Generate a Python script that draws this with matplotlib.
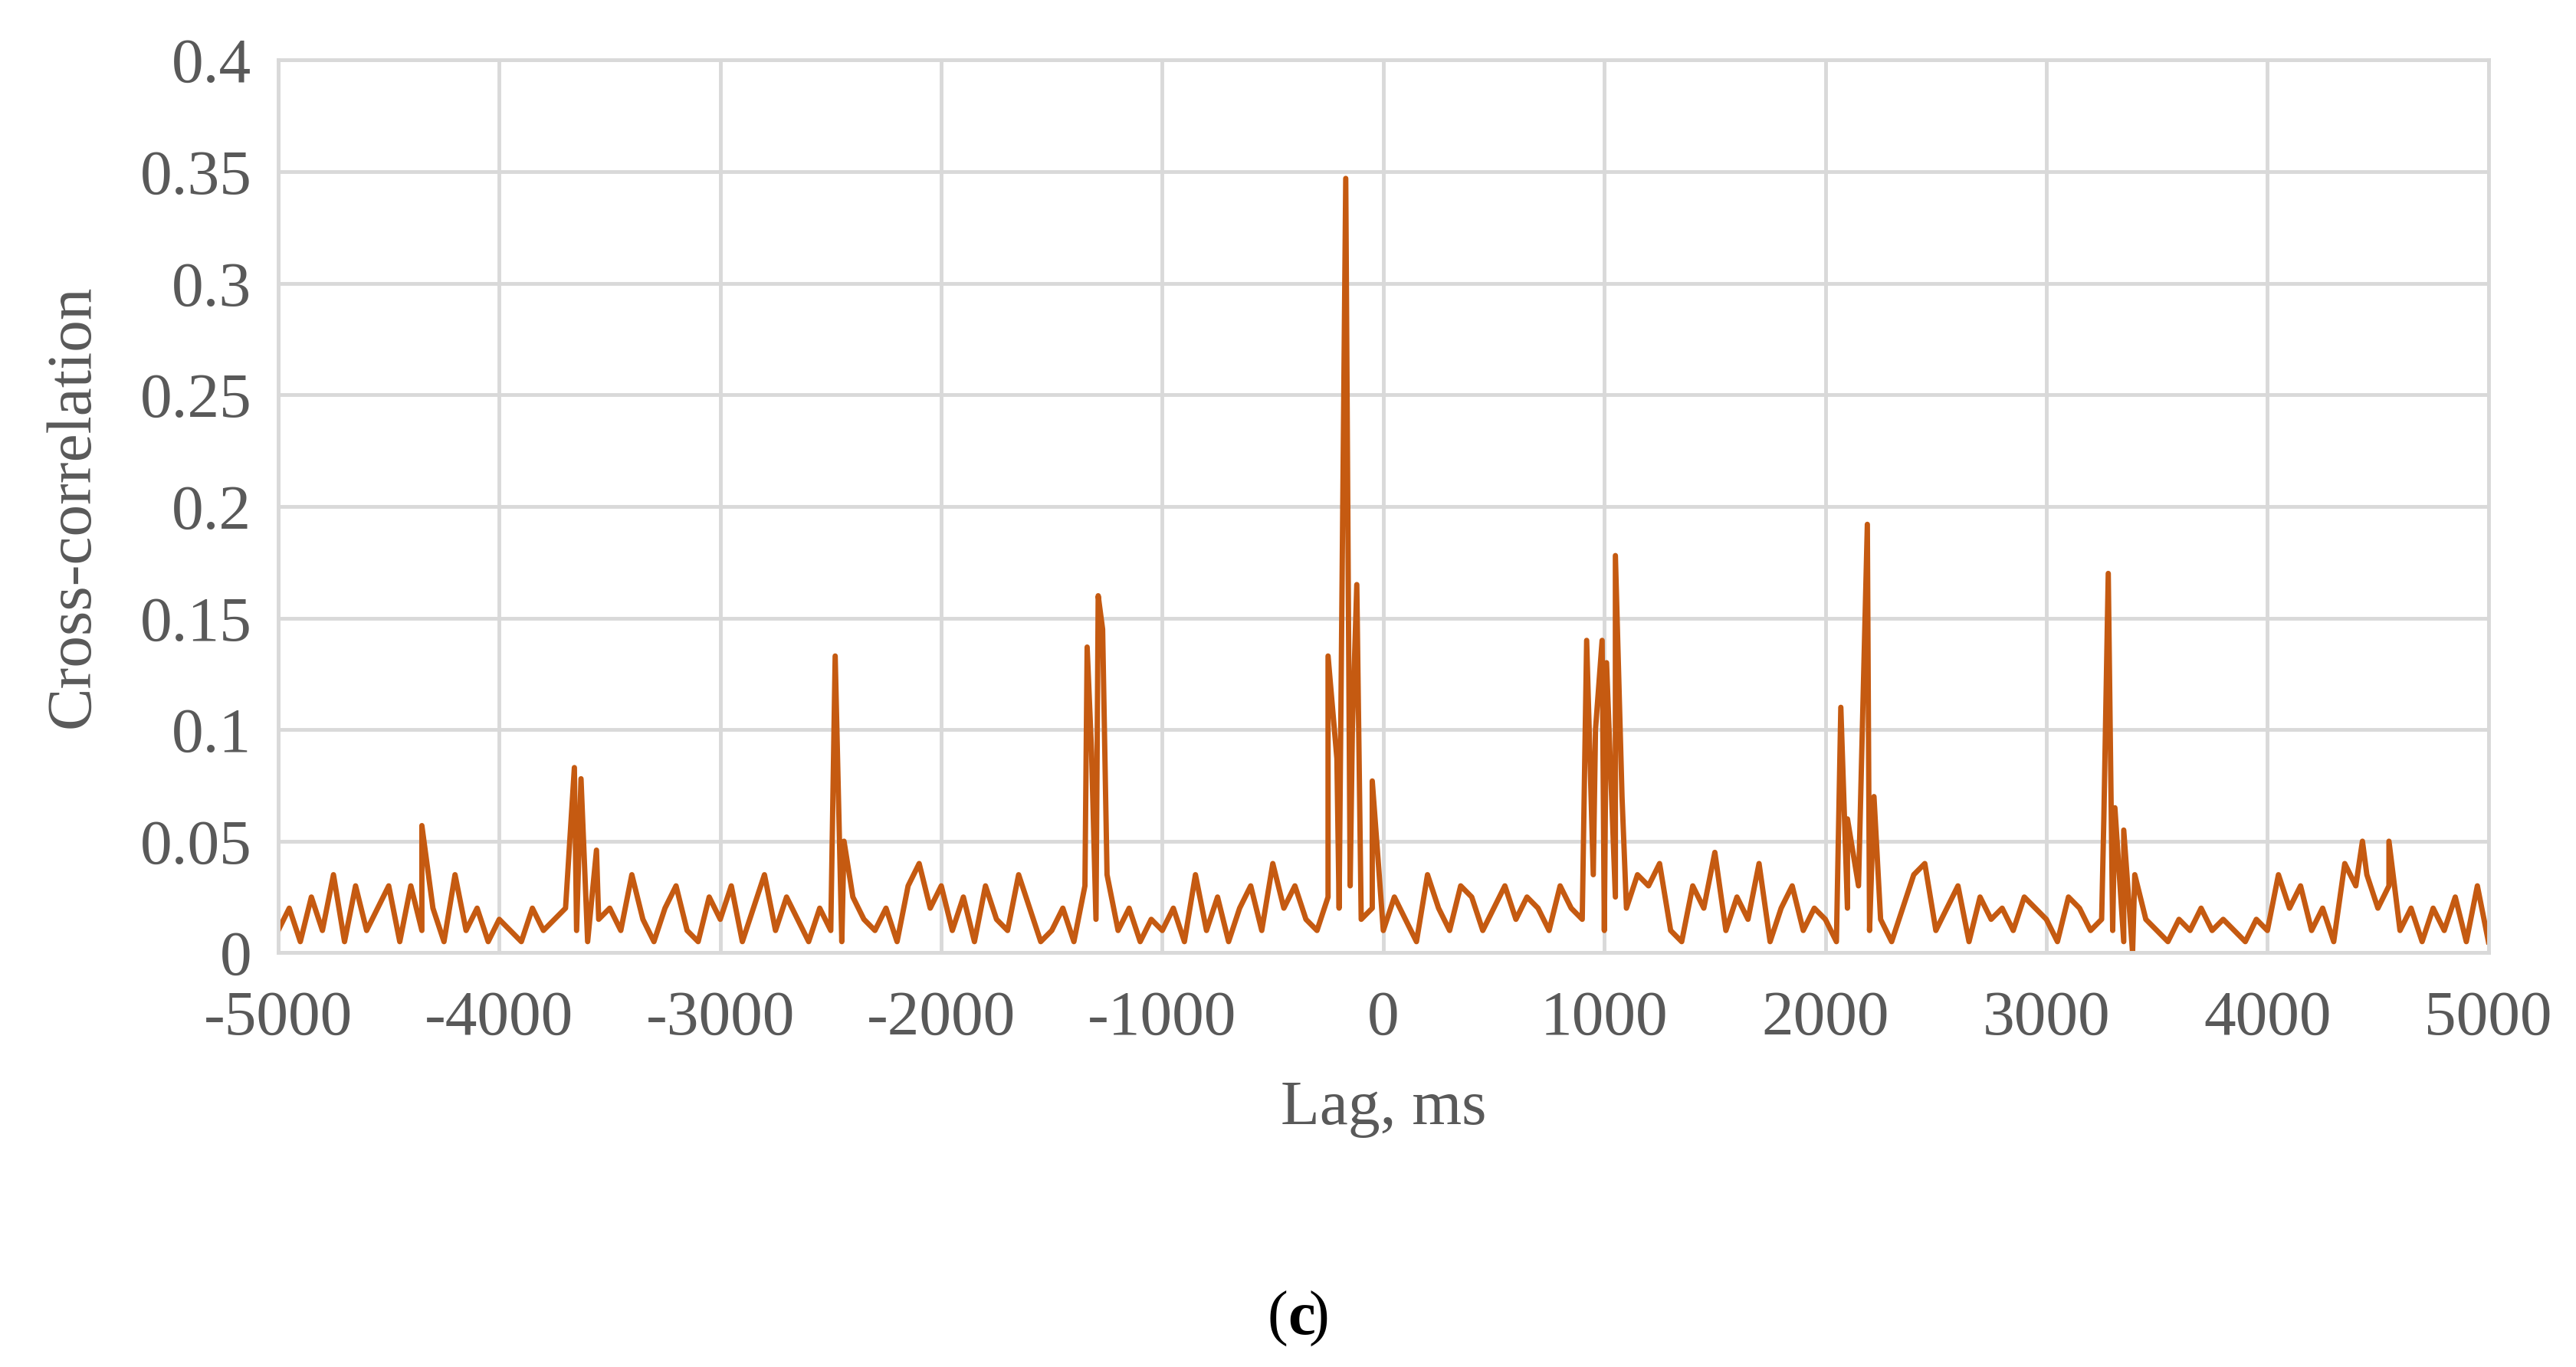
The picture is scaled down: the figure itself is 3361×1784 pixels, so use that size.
import matplotlib.pyplot as plt

# baseline values read every 50 ms from -5000 to 5000
base_lag = list(range(-5000, 5001, 50))
base_val = [
    0.010, 0.020, 0.005, 0.025, 0.010, 0.035, 0.005, 0.030, 0.010, 0.020,
    0.030, 0.005, 0.030, 0.010, 0.020, 0.005, 0.035, 0.010, 0.020, 0.005,
    0.015, 0.010, 0.005, 0.020, 0.010, 0.015, 0.020, 0.010, 0.005, 0.015,
    0.020, 0.010, 0.035, 0.015, 0.005, 0.020, 0.030, 0.010, 0.005, 0.025,
    0.015, 0.030, 0.005, 0.020, 0.035, 0.010, 0.025, 0.015, 0.005, 0.020,
    0.010, 0.005, 0.025, 0.015, 0.010, 0.020, 0.005, 0.030, 0.040, 0.020,
    0.030, 0.010, 0.025, 0.005, 0.030, 0.015, 0.010, 0.035, 0.020, 0.005,
    0.010, 0.020, 0.005, 0.030, 0.015, 0.035, 0.010, 0.020, 0.005, 0.015,
    0.010, 0.020, 0.005, 0.035, 0.010, 0.025, 0.005, 0.020, 0.030, 0.010,
    0.040, 0.020, 0.030, 0.015, 0.010, 0.025, 0.020, 0.030, 0.015, 0.020,
    0.010, 0.025, 0.015, 0.005, 0.035, 0.020, 0.010, 0.030, 0.025, 0.010,
    0.020, 0.030, 0.015, 0.025, 0.020, 0.010, 0.030, 0.020, 0.015, 0.035,
    0.010, 0.025, 0.020, 0.035, 0.030, 0.040, 0.010, 0.005, 0.030, 0.020,
    0.045, 0.010, 0.025, 0.015, 0.040, 0.005, 0.020, 0.030, 0.010, 0.020,
    0.015, 0.005, 0.020, 0.030, 0.010, 0.015, 0.005, 0.020, 0.035, 0.040,
    0.010, 0.020, 0.030, 0.005, 0.025, 0.015, 0.020, 0.010, 0.025, 0.020,
    0.015, 0.005, 0.025, 0.020, 0.010, 0.015, 0.010, 0.005, 0.035, 0.015,
    0.010, 0.005, 0.015, 0.010, 0.020, 0.010, 0.015, 0.010, 0.005, 0.015,
    0.010, 0.035, 0.020, 0.030, 0.010, 0.020, 0.005, 0.040, 0.030, 0.035,
    0.020, 0.030, 0.010, 0.020, 0.005, 0.020, 0.010, 0.025, 0.005, 0.030,
    0.005,
]

# peaks
peak_lag = [-4350, -3660, -3630, -3560, -2480, -2440, -1340, -1320, -1290, -1270,
            -250, -210, -170, -140, -120, -50, 920, 960, 990, 1010, 1050, 1080,
            2070, 2100, 2190, 2220, 3260, 3280, 3310, 3350, 3390, 4430, 4550]
peak_val = [0.057, 0.083, 0.078, 0.046, 0.133, 0.050, 0.137, 0.090, 0.160, 0.145,
            0.133, 0.087, 0.347, 0.100, 0.165, 0.077, 0.140, 0.100, 0.140, 0.130, 0.178, 0.070,
            0.110, 0.060, 0.192, 0.070, 0.060, 0.170, 0.065, 0.055, 0.000, 0.050, 0.050]

pts = sorted(zip(base_lag + peak_lag, base_val + peak_val))
lag = [p[0] for p in pts]
val = [p[1] for p in pts]

plt.rcParams['font.family'] = ['Liberation Serif', 'DejaVu Serif']
plt.rcParams['axes.unicode_minus'] = False

fig = plt.figure(figsize=(33.61, 17.84), dpi=100)
ax = fig.add_axes([0.108, 0.303, 0.858, 0.653])
ax.plot(lag, val, color='#C55A11', linewidth=5)
ax.set_xlim(-5000, 5000)
ax.set_ylim(0, 0.4)
ax.set_xticks(range(-5000, 5001, 1000))
ax.set_yticks([0, 0.05, 0.1, 0.15, 0.2, 0.25, 0.3, 0.35, 0.4])
ax.set_yticklabels(['0', '0.05', '0.1', '0.15', '0.2', '0.25', '0.3', '0.35', '0.4'])
ax.grid(True, color='#D9D9D9', linewidth=3.5)
ax.set_axisbelow(True)
for s in ax.spines.values():
    s.set_color('#D9D9D9')
    s.set_linewidth(3.5)
ax.tick_params(length=0, labelsize=60, colors='#595959')
ax.tick_params(axis='x', pad=35)
ax.tick_params(axis='y', pad=25)
ax.set_xlabel('Lag, ms', fontsize=60, color='#595959', labelpad=30)
ax.set_ylabel('Cross-correlation', fontsize=60, color='#595959', labelpad=35)
fig.text(0.5, 0.035, '(', fontsize=58, ha='right', va='center')
fig.text(0.5, 0.035, 'c', fontsize=58, fontweight='bold', ha='left', va='center')
fig.text(0.508, 0.035, ')', fontsize=58, ha='left', va='center')

fig.savefig('out.png', dpi=100)
